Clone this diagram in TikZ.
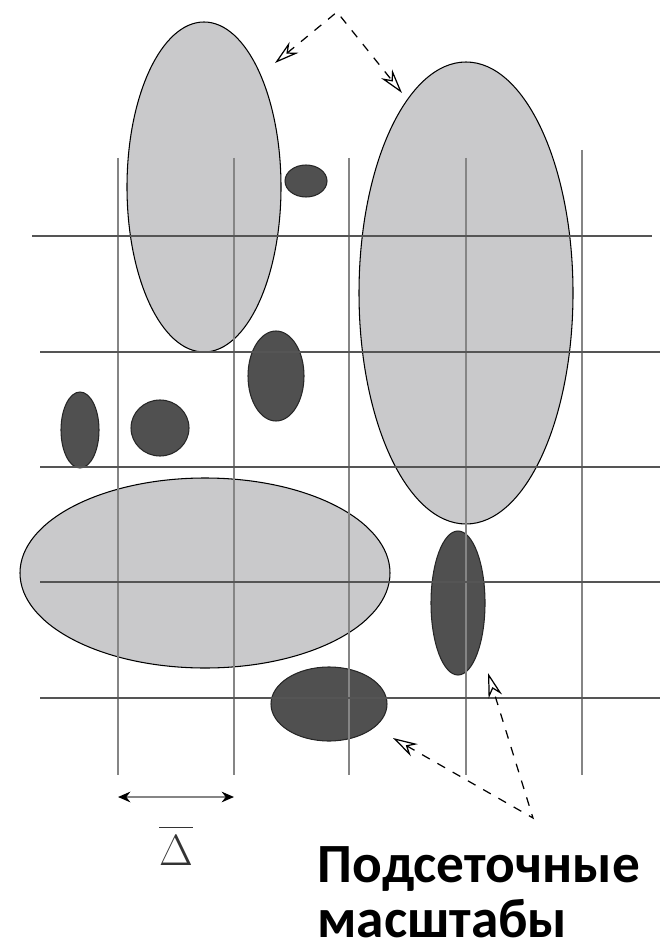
\documentclass[tikz,border=0pt]{standalone}
\usepackage{fontspec}
\usepackage{tikz}
\usetikzlibrary{arrows.meta, shapes.geometric}
\newfontfamily\capfont{Carlito}
\definecolor{lightfill}{HTML}{C9C9CB}
\definecolor{darkfill}{HTML}{505050}
\definecolor{hline}{HTML}{555555}
\definecolor{vline}{HTML}{858585}
\tikzset{
  lightblob/.style={ellipse, draw=black, line width=0.6pt, fill=lightfill, inner sep=0pt},
  darkblob/.style={ellipse, draw=black!85, line width=0.6pt, fill=darkfill, inner sep=0pt},
  sz/.style 2 args={minimum width=#1*0.02cm, minimum height=#2*0.02cm},
  gridv/.style={draw=vline, line width=1.3pt},
  gridh/.style={draw=hline, line width=1.3pt},
  pointer/.style={dashed, dash pattern=on 5pt off 5pt, line width=0.7pt,
                  {Stealth[open, length=14pt, width=8pt]}-{Stealth[open, length=14pt, width=8pt]}},
  span/.style={draw=vline, line width=1.3pt,
               {Stealth[length=7pt, width=6pt, black]}-{Stealth[length=7pt, width=6pt, black]}},
}

\begin{document}
\begin{tikzpicture}[x=0.02cm, y=-0.02cm]
\useasboundingbox (0,0) rectangle (665,952);
% large (resolved) eddies
\node[lightblob, sz={154}{330}] (topL) at (204,187) {};
\node[lightblob, sz={214}{462}] (bigR) at (466,293) {};
\node[lightblob, sz={370}{190}] (lowL) at (205,573) {};
% small (subgrid) eddies
\node[darkblob, sz={42}{32}] (d1) at (306,181) {};
\node[darkblob, sz={56}{90}] (d2) at (276,376) {};
\node[darkblob, sz={38}{76}] (d3) at (80,430) {};
\node[darkblob, sz={58}{56}] (d4) at (160,428) {};
\node[darkblob, sz={54}{144}] (d5) at (458,603) {};
\node[darkblob, sz={116}{74}] (d6) at (329,704) {};
% grid
\foreach \gx in {118,234,349,466} \draw[gridv] (\gx,158) -- (\gx,775);
\draw[gridv] (582,150) -- (582,775);
\draw[gridh] (32,236) -- (652,236);
\foreach \gy in {352,467,582,698} \draw[gridh] (40,\gy) -- (660,\gy);
% pointers
\coordinate (topApex) at (337,12);
\coordinate (topTipL) at (275,63);
\coordinate (topTipR) at (402,93);
\draw[pointer] (topTipL) -- (topApex) -- (topTipR);
\coordinate (botApex) at (533,818);
\coordinate (botTipL) at (393,738);
\coordinate (botTipR) at (488,673);
\draw[pointer] (botTipL) -- (botApex) -- (botTipR);
% grid step
\coordinate (stepL) at (118,797);
\coordinate (stepR) at (234,797);
\draw[span] (stepL) -- (stepR);
\node[font=\fontsize{23}{27}\selectfont, text=black!80] (delta) at (176,846)
  {$\overline{\rule{0pt}{0.9em}\Delta}$};
% caption (base anchor = last line)
\node[anchor=base west, inner sep=0pt, align=left,
      font=\capfont\bfseries\fontsize{31.5}{31pt}\selectfont] (caption) at (317,937)
  {Подсеточные\\масштабы};
\end{tikzpicture}
\end{document}
